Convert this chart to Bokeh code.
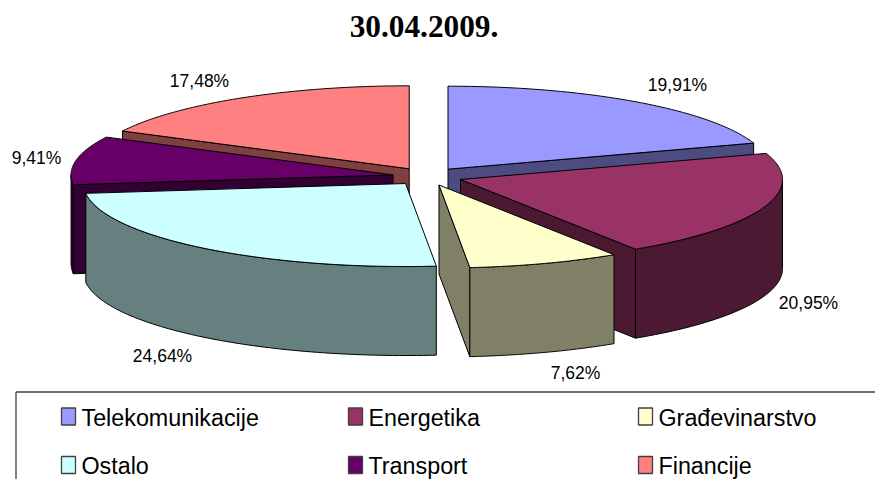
import numpy as np
from bokeh.core.properties import value
from bokeh.embed import file_html
from bokeh.models import Range1d
from bokeh.plotting import figure
from bokeh.resources import INLINE

# ---- data ----
title = "30.04.2009."
categories = ["Telekomunikacije", "Energetika", "Građevinarstvo", "Ostalo", "Transport", "Financije"]
shares = [19.91, 20.95, 7.62, 24.64, 9.41, 17.48]
top_colors = ["#9999FF", "#993366", "#FFFFCC", "#CCFFFF", "#660066", "#FF8080"]
side_colors = ["#4C4C80", "#4C1933", "#808066", "#668080", "#330033", "#804040"]

# ---- layout (page pixels) ----
W, H = 875, 479
CX, CY = 427.0, 176.0
RX, RY = 322.0, 83.0
DEPTH = 89.0
EXPLODE = 0.1087
label_x = [677, 808, 575, 162, 36, 199]
label_y = [84, 302, 372, 355, 157, 80]
draw_order = [5, 0, 4, 1, 2, 3]
col_x = [61, 348, 638]
row_y = [416, 464.5]
legend_left, legend_top = 15.5, 391.5

p = figure(width=W, height=H, output_backend="svg", toolbar_location=None,
           x_range=Range1d(0, W), y_range=Range1d(H, 0),
           min_border=0, outline_line_color=None)
p.axis.visible = False
p.grid.visible = False
p.background_fill_color = "white"
p.border_fill_color = "white"

fr = np.array(shares) / sum(shares)
ends = np.cumsum(fr) * 360.0
starts = ends - fr * 360.0


def ring(tx, ty, a):
    r = np.radians(a)
    return tx + RX * np.sin(r), ty - RY * np.cos(r)


def poly(xs, ys, color):
    p.patch(list(xs), list(ys), fill_color=color, line_color="black", line_width=1, line_join="miter")


for i in draw_order:
    s, e = starts[i], ends[i]
    m = np.radians((s + e) / 2)
    tx = CX + EXPLODE * RX * np.sin(m)
    ty = CY - EXPLODE * RY * np.cos(m)
    # radial walls that face the viewer
    for ang, visible in ((s, np.sin(np.radians(s)) < 0), (e, np.sin(np.radians(e)) > 0)):
        if visible:
            ox, oy = ring(tx, ty, ang)
            poly([tx, ox, ox, tx], [ty, oy, oy + DEPTH, ty + DEPTH], side_colors[i])
    # outer rim, only the front half of the pie shows
    a0, a1 = max(s, 90.0), min(e, 270.0)
    if a1 > a0:
        aa = np.linspace(a0, a1, 80)
        rx, ry = ring(tx, ty, aa)
        poly(np.r_[rx, rx[::-1]], np.r_[ry, ry[::-1] + DEPTH], side_colors[i])
    # top face
    aa = np.linspace(s, e, 120)
    rx, ry = ring(tx, ty, aa)
    poly(np.r_[tx, rx], np.r_[ty, ry], top_colors[i])

labels = [f"{v:.2f}%".replace(".", ",") for v in shares]
p.text(label_x, label_y, text=labels, text_font=value("Liberation Sans"), text_font_size="17.5px",
       text_align="center", text_baseline="middle", text_color="black")

p.text([423.5], [26], text=[title], text_font=value("Liberation Serif"), text_font_size="31.3px",
       text_font_style="bold", text_align="center", text_baseline="middle", text_color="black")

# legend frame runs off the picture on the right and at the bottom
p.line([legend_left, legend_left], [H, legend_top], line_color="#404040", line_width=1.3)
p.line([legend_left, W], [legend_top, legend_top], line_color="#404040", line_width=1.3)

for i, name in enumerate(categories):
    c, r = i % 3, i // 3
    x0, y0 = col_x[c], row_y[r]
    p.quad(left=[x0], right=[x0 + 14], top=[y0 - 8.5], bottom=[y0 + 8.5],
           fill_color=top_colors[i], line_color="#404040", line_width=1.3)
    p.text([x0 + 20], [y0 + 1], text=[name], text_font=value("Liberation Sans"), text_font_size="23.3px",
           text_align="left", text_baseline="middle", text_color="black")

open("out.html", "w").write(file_html(p, INLINE))
